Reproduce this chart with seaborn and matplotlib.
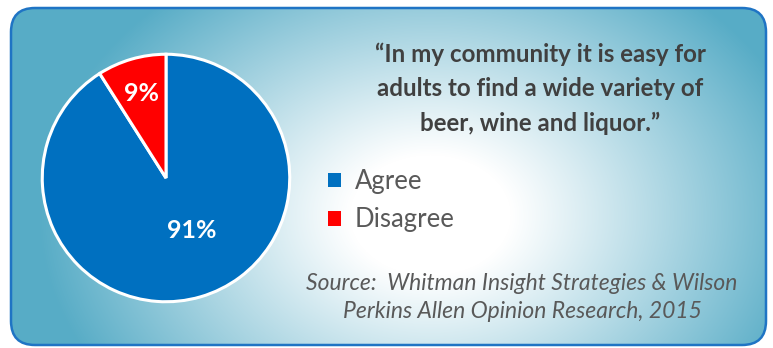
import numpy as np
import matplotlib
matplotlib.use("Agg")
import matplotlib.pyplot as plt
from matplotlib.patches import FancyBboxPatch, Patch
import seaborn as sns

# Survey responses
categories = ["Agree", "Disagree"]
shares = [91, 9]
colors = ["#0070C0", "#FF0000"]

title_lines = ["\u201cIn my community it is easy for",
               "adults to find a wide variety of",
               "beer, wine and liquor.\u201d"]
source_lines = ["Source:  Whitman Insight Strategies & Wilson",
                "Perkins Allen Opinion Research, 2015"]

sns.set_theme(style="white")
plt.rcParams["font.family"] = ["Lato", "DejaVu Sans"]

W, H = 773, 348
fig = plt.figure(figsize=(W / 100, H / 100), dpi=100)
fig.patch.set_facecolor("white")

# Background panel in pixel coordinates
bg = fig.add_axes([0, 0, 1, 1])
bg.set_xlim(0, W)
bg.set_ylim(H, 0)
bg.axis("off")

x0, y0, x1, y1 = 11, 8, 766, 345
yy, xx = np.mgrid[0:H, 0:W]
cx, cy, rx, ry = 430, 215, 400, 300
d = np.sqrt(((xx - cx) / rx) ** 2 + ((yy - cy) / ry) ** 2)
t = np.clip((d - 0.2) / 0.78, 0, 1) ** 1.05
edge = np.array(matplotlib.colors.to_rgb("#57acc6"))
img = (1 - t)[..., None] * np.ones(3) + t[..., None] * edge

box = FancyBboxPatch((x0, y0), x1 - x0, y1 - y0,
                     boxstyle="round,pad=0,rounding_size=24",
                     facecolor="none", edgecolor="#1f74c4", linewidth=1.8,
                     transform=bg.transData, zorder=3)
im = bg.imshow(img, extent=(0, W, H, 0), aspect="auto", zorder=1)
bg.add_patch(box)
im.set_clip_path(box)

# Pie
pcx, pcy, pr = 166, 178, 125
ax = fig.add_axes([(pcx - pr) / W, (H - pcy - pr) / H, 2 * pr / W, 2 * pr / H])
wedges, _ = ax.pie(shares, colors=colors, startangle=90, counterclock=False,
                   radius=0.99,
                   wedgeprops=dict(edgecolor="white", linewidth=2.2))
ax.set_xlim(-1, 1)
ax.set_ylim(-1, 1)
ax.axis("off")
label_r = [0.47, 0.70]
label_shift = [10, 0]
for w, v, r, s in zip(wedges, shares, label_r, label_shift):
    ang = np.deg2rad((w.theta1 + w.theta2) / 2 + s)
    ax.text(r * np.cos(ang), r * np.sin(ang), f"{v}%", color="white",
            fontsize=18, fontweight="bold", ha="center", va="center")

# Quote
for i, line in enumerate(title_lines):
    fig.text(540 / W, 1 - (54 + 34.5 * i) / H, line, ha="center", va="center",
             fontsize=17.4, fontweight="bold", color="#404040")

# Legend
handles = [Patch(facecolor=c, edgecolor="none") for c in colors]
fig.legend(handles, categories, loc="upper left",
           bbox_to_anchor=(305 / W, 1 - 146 / H), frameon=False,
           fontsize=18.5, labelcolor="#595959", handlelength=0.5,
           handleheight=0.5, handletextpad=0.55, labelspacing=0.52)

# Source note
for i, line in enumerate(source_lines):
    fig.text(522 / W, 1 - (283 + 29 * i) / H, line, ha="center", va="center",
             fontsize=16.5, fontstyle="italic", color="#595959")

fig.savefig("out.png", dpi=100, facecolor="white")
